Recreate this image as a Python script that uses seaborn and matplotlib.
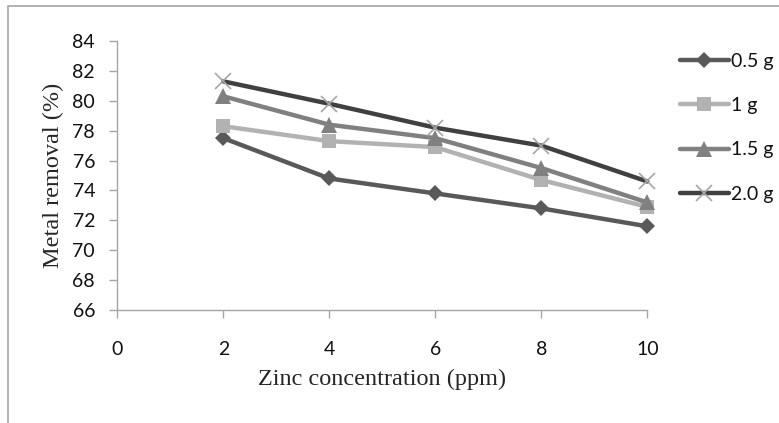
import matplotlib
matplotlib.use("Agg")
import matplotlib.pyplot as plt
import seaborn as sns
import pandas as pd
from matplotlib.patches import Rectangle

zinc_ppm = [2, 4, 6, 8, 10]
removal_05g = [77.5, 74.8, 73.8, 72.8, 71.6]
removal_1g = [78.3, 77.3, 76.9, 74.7, 72.9]
removal_15g = [80.3, 78.4, 77.5, 75.5, 73.2]
removal_20g = [81.3, 79.8, 78.2, 77.0, 74.6]
series_labels = ["0.5 g", "1 g", "1.5 g", "2.0 g"]
y_ticks = [66, 68, 70, 72, 74, 76, 78, 80, 82, 84]
x_ticks = [0, 2, 4, 6, 8, 10]

sns.set_style("white")
plt.rcParams['font.family'] = ['Lato', 'DejaVu Sans']

fig = plt.figure(figsize=(7.79, 4.23), dpi=100)
ax = fig.add_axes([117.3 / 779, 1 - 310 / 423, (647.3 - 117.3) / 779, (310 - 41) / 423])

styles = [
    dict(color="#595959", marker="D", markersize=8.5, mec="#595959", mew=0),
    dict(color="#b2b2b2", marker="s", markersize=10, mec="#b2b2b2", mew=0),
    dict(color="#808080", marker="^", markersize=11, mec="#808080", mew=0),
    dict(color="#404040", marker="x", markersize=11, mec="#a6a6a6", mew=1.2),
]
all_values = [removal_05g, removal_1g, removal_15g, removal_20g]

for label, vals, st in zip(series_labels, all_values, styles):
    df = pd.DataFrame({"x": zinc_ppm, "y": vals})
    sns.lineplot(data=df, x="x", y="y", ax=ax, color=st["color"], linewidth=3.2,
                 marker=st["marker"], markersize=st["markersize"],
                 markeredgecolor=st["mec"], markerfacecolor=st["color"],
                 markeredgewidth=st["mew"], label=label, clip_on=False)

ax.set_xlim(0, 10)
ax.set_ylim(66, 84)
ax.set_xticks(x_ticks)
ax.set_yticks(y_ticks)

for s in ["top", "right"]:
    ax.spines[s].set_visible(False)
for s in ["left", "bottom"]:
    ax.spines[s].set_color("#a6a6a6")
    ax.spines[s].set_linewidth(1)

ax.tick_params(axis="y", direction="out", length=6, width=1, color="#a6a6a6",
               pad=10, labelsize=14, left=True, labelcolor="#111111")
ax.tick_params(axis="x", direction="out", length=6, width=1, color="#a6a6a6",
               pad=16, labelsize=14, bottom=True, labelcolor="#111111")

ax.set_xlabel("Zinc concentration (ppm)", family=["Liberation Serif"], fontsize=17.5, labelpad=8)
ax.set_ylabel("Metal removal (%)", family=["Liberation Serif"], fontsize=17.5, labelpad=6)

leg = ax.legend(loc="upper left", bbox_to_anchor=(680 / 779, 1 - 53 / 423),
                bbox_transform=fig.transFigure, frameon=False, fontsize=14,
                handlelength=2.5, handletextpad=0.12, labelspacing=1.4,
                borderpad=0, borderaxespad=0)
for t in leg.get_texts():
    t.set_color("#111111")

fig.patches.append(Rectangle((8 / 779, -0.1), 1.2, (1 - 6 / 423) + 0.1,
                             transform=fig.transFigure, fill=False,
                             edgecolor="#a6a6a6", linewidth=1.2))

fig.savefig("out.png", dpi=100, facecolor="white")
